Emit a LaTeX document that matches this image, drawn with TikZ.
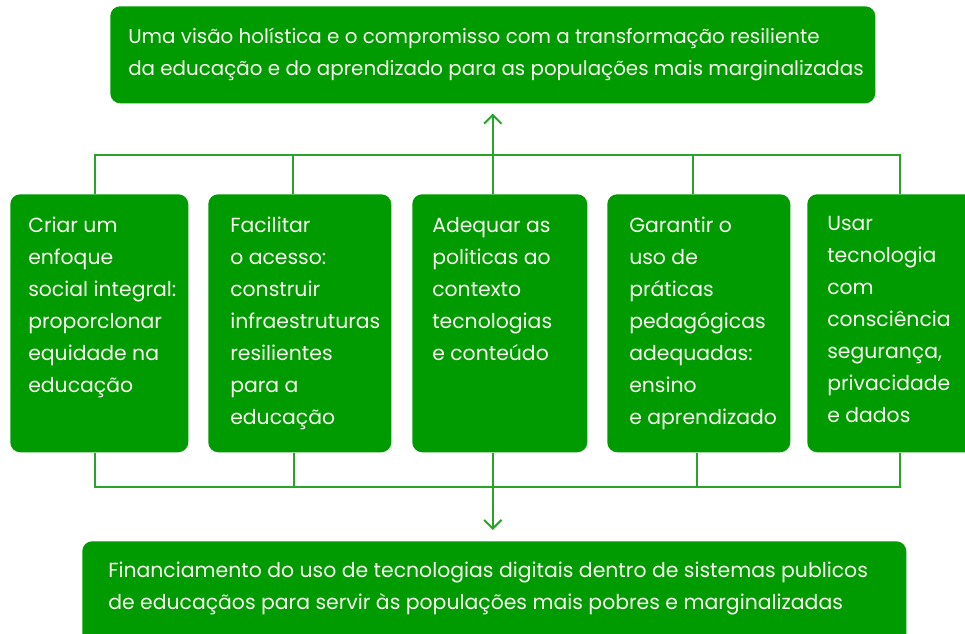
\documentclass[tikz,border=0pt]{standalone}
\usepackage{fontspec}
\setmainfont{Poppins}
\usetikzlibrary{arrows.meta,calc}
\definecolor{boxgreen}{RGB}{0,155,0}
\definecolor{linegreen}{RGB}{40,165,40}
\definecolor{txt}{RGB}{250,250,240}
\newcommand{\lines}[1]{\begin{tabular}[t]{@{}l@{}}#1\end{tabular}}
\tikzset{
  gbox/.style 2 args={fill=boxgreen, draw=none, rounded corners=7.5pt, inner sep=0pt,
    anchor=north west, minimum width=#1*0.75pt, minimum height=#2*0.75pt},
  gtext/.style={anchor=base west, inner sep=0pt, text=txt,
    font=\fontsize{15.3}{24}\selectfont},
  conn/.style={draw=linegreen, line width=1.5pt},
  arr/.style={conn, -{Straight Barb[length=6.5pt,width=13pt,line width=1.5pt]}}
}
\begin{document}
\begin{tikzpicture}[x=0.75pt,y=-0.75pt]
\useasboundingbox (0,0) rectangle (965,634);
\clip (0,0) rectangle (965,634);
% boxes
\node[gbox={765}{97}] (top) at (110,6) {};
\node[gbox={178}{258}] (b1) at (10,194) {};
\node[gbox={183}{258}] (b2) at (208,194) {};
\node[gbox={175}{258}] (b3) at (412,194) {};
\node[gbox={183}{258}] (b4) at (607,194) {};
\node[gbox={183}{258}] (b5) at (807,194) {};
\node[gbox={824}{110}] (bot) at (82,541) {};
% texts
\node[gtext, font=\fontsize{14.9}{24}\selectfont] (ttop) at (128,44) {\lines{Uma visão holística e o compromisso com a transformação resiliente\\da educação e do aprendizado para as populações mais marginalizadas}};
\node[gtext] (t1) at (28,233) {\lines{Criar um\\enfoque\\social integral:\\proporclonar\\equidade na\\educação}};
\node[gtext] (t2) at (230,233) {\lines{Facilitar\\o acesso:\\construir\\infraestruturas\\resilientes\\para a\\educação}};
\node[gtext] (t3) at (432,233) {\lines{Adequar as\\politicas ao\\contexto\\tecnologias\\e conteúdo}};
\node[gtext] (t4) at (629,233) {\lines{Garantir o\\uso de\\práticas\\pedagógicas\\adequadas:\\ensino\\e aprendizado}};
\node[gtext] (t5) at (827,231) {\lines{Usar\\tecnologia\\com\\consciência\\segurança,\\privacidade\\e dados}};
\node[gtext] (tbot) at (108,578) {\lines{Financiamento do uso de tecnologias digitais dentro de sistemas publicos\\de educaçãos para servir às populações mais pobres e marginalizadas}};
% top bus
\coordinate (u1) at (95,155);
\coordinate (u2) at (293,155);
\coordinate (u4) at (693,155);
\coordinate (u5) at (900,155);
\draw[conn] (u1 |- b1.north) -- (u1) -- (u5) -- (u5 |- b5.north);
\draw[conn] (u2) -- (u2 |- b2.north);
\draw[conn] (u4) -- (u4 |- b4.north);
\draw[arr] (top.south |- b3.north) -- ($(top.south)+(0,10)$);
% bottom bus
\coordinate (d1) at (95,487);
\coordinate (d2) at (294,487);
\coordinate (d4) at (697,487);
\coordinate (d5) at (900,487);
\draw[conn] (d1 |- b1.south) -- (d1) -- (d5) -- (d5 |- b5.south);
\draw[conn] (d2) -- (d2 |- b2.south);
\draw[conn] (d4) -- (d4 |- b4.south);
\draw[arr] (top.south |- b3.south) -- ($(top.south |- bot.north)+(0,-11)$);
\end{tikzpicture}
\end{document}
